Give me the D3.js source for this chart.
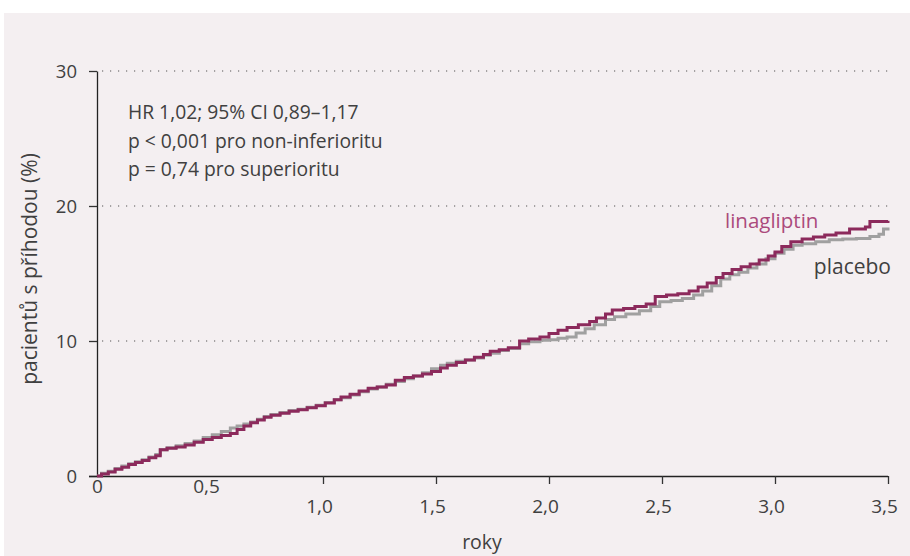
<!DOCTYPE html>
<html>
<head>
<meta charset="utf-8">
<script src="https://cdn.jsdelivr.net/npm/d3@7"></script>
<style>
  html, body { margin: 0; padding: 0; background: #ffffff; }
  svg { display: block; }
  text { font-family: "Open Sans", "Noto Sans", sans-serif; font-weight: 400; }
</style>
</head>
<body>
<svg id="chart" width="910" height="556"></svg>
<script>
// ---- data ----
const xTicks = [0, 0.5, 1.0, 1.5, 2.0, 2.5, 3.0, 3.5];
const xTickLabels = ["0", "0,5", "1,0", "1,5", "2,0", "2,5", "3,0", "3,5"];
const yTicks = [0, 10, 20, 30];
const yTickLabels = ["0", "10", "20", "30"];
const statsLines = ["HR 1,02; 95% CI 0,89–1,17", "p < 0,001 pro non-inferioritu", "p = 0,74 pro superioritu"];
const seriesNames = ["linagliptin", "placebo"];

// [years, cumulative % with event]
const linagliptin = [
  [0.00,0.0],[0.02,0.15],[0.05,0.3],[0.08,0.5],[0.11,0.65],[0.14,0.85],[0.17,1.0],[0.20,1.15],
  [0.23,1.35],[0.26,1.5],[0.28,1.95],[0.31,2.05],[0.35,2.15],[0.39,2.3],[0.43,2.5],[0.47,2.7],
  [0.51,2.85],[0.55,3.0],[0.59,3.15],[0.62,3.45],[0.65,3.7],[0.68,3.95],[0.71,4.15],[0.74,4.35],
  [0.77,4.5],[0.81,4.65],[0.85,4.8],[0.89,4.9],[0.93,5.05],[0.97,5.2],[1.01,5.4],[1.05,5.65],
  [1.08,5.85],[1.12,6.05],[1.16,6.3],[1.20,6.5],[1.24,6.6],[1.28,6.75],[1.32,7.1],[1.36,7.3],
  [1.40,7.4],[1.44,7.55],[1.48,7.75],[1.52,8.0],[1.55,8.2],[1.59,8.4],[1.63,8.6],[1.67,8.8],
  [1.71,9.0],[1.74,9.25],[1.78,9.35],[1.82,9.5],[1.87,10.0],[1.91,10.15],[1.96,10.3],[2.00,10.55],
  [2.04,10.8],[2.08,11.0],[2.13,11.2],[2.18,11.45],[2.21,11.7],[2.25,12.0],[2.28,12.3],[2.33,12.4],
  [2.38,12.55],[2.43,12.75],[2.47,13.3],[2.52,13.4],[2.57,13.5],[2.62,13.7],[2.66,14.0],[2.70,14.3],
  [2.74,14.7],[2.77,15.0],[2.81,15.3],[2.85,15.5],[2.89,15.7],[2.93,16.0],[2.97,16.3],[3.00,16.6],
  [3.03,17.0],[3.07,17.35],[3.12,17.55],[3.17,17.7],[3.22,17.85],[3.27,18.0],[3.33,18.3],[3.40,18.45],
  [3.42,18.85],[3.50,18.9]
];
const placebo = [
  [0.00,0.0],[0.02,0.2],[0.05,0.35],[0.08,0.55],[0.11,0.75],[0.14,0.9],[0.17,1.05],[0.20,1.2],
  [0.23,1.4],[0.26,1.6],[0.28,1.95],[0.31,2.1],[0.35,2.25],[0.39,2.4],[0.43,2.6],[0.47,2.85],
  [0.51,3.05],[0.55,3.3],[0.59,3.55],[0.62,3.7],[0.65,3.85],[0.68,4.0],[0.71,4.2],[0.74,4.4],
  [0.77,4.55],[0.81,4.7],[0.85,4.85],[0.89,4.95],[0.93,5.1],[0.97,5.25],[1.01,5.45],[1.05,5.65],
  [1.08,5.8],[1.12,6.0],[1.16,6.25],[1.20,6.45],[1.24,6.6],[1.28,6.8],[1.32,7.0],[1.36,7.2],
  [1.40,7.4],[1.44,7.65],[1.48,7.95],[1.52,8.2],[1.55,8.35],[1.59,8.5],[1.63,8.6],[1.67,8.75],
  [1.71,8.95],[1.74,9.1],[1.78,9.3],[1.82,9.45],[1.87,9.8],[1.91,9.95],[1.96,10.05],[2.00,10.1],
  [2.04,10.2],[2.08,10.3],[2.12,10.6],[2.16,10.9],[2.20,11.2],[2.25,11.6],[2.29,11.8],[2.34,12.0],
  [2.40,12.25],[2.45,12.55],[2.49,12.9],[2.54,13.0],[2.59,13.15],[2.64,13.4],[2.68,13.7],[2.72,14.1],
  [2.76,14.6],[2.80,14.9],[2.84,15.1],[2.88,15.4],[2.92,15.7],[2.96,16.1],[3.00,16.5],[3.04,16.8],
  [3.08,17.1],[3.12,17.2],[3.18,17.35],[3.24,17.5],[3.30,17.55],[3.36,17.6],[3.42,17.75],[3.46,17.9],
  [3.48,18.3],[3.50,18.4]
];

// ---- layout ----
const svg = d3.select("#chart");
const W = 910, H = 556;
const mLeft = 97, mRight = 888, mTop = 71, mBottom = 476;

svg.append("rect").attr("x", 4).attr("y", 13).attr("width", W - 4).attr("height", H - 13)
  .attr("fill", "#f4eff1");

const x = d3.scaleLinear().domain([0, 3.5]).range([mLeft, mRight]);
const y = d3.scaleLinear().domain([0, 30]).range([mBottom, mTop]);

const textColor = "#404040";
const fs = 18.5;

// gridlines (dotted) at 10,20,30
svg.append("g").selectAll("line").data(yTicks.filter(d => d > 0)).join("line")
  .attr("x1", mLeft + 5).attr("x2", mRight)
  .attr("y1", d => y(d)).attr("y2", d => y(d))
  .attr("stroke", "#555").attr("stroke-width", 1.2)
  .attr("stroke-dasharray", "1.2,6.8");

// y axis
const yAxis = svg.append("g").attr("transform", `translate(${mLeft},0)`)
  .call(d3.axisLeft(y).tickValues(yTicks).tickFormat((d, i) => yTickLabels[i]).tickSize(8).tickSizeOuter(0));
yAxis.select(".domain").attr("stroke", "#222").attr("stroke-width", 1.3);
yAxis.selectAll(".tick line").attr("stroke", "#333").attr("stroke-width", 1.3);
yAxis.selectAll(".tick text").attr("x", -20).attr("dy", "0.36em").attr("font-size", fs).attr("fill", textColor)
  .attr("font-family", "'Open Sans', sans-serif");

// x axis
const xAxis = svg.append("g").attr("transform", `translate(0,${mBottom})`)
  .call(d3.axisBottom(x).tickValues(xTicks).tickFormat((d, i) => xTickLabels[i]).tickSize(8).tickSizeOuter(0));
xAxis.select(".domain").attr("stroke", "#222").attr("stroke-width", 1.3)
  .attr("d", `M${mLeft - 8},0.5H${mRight}`);
xAxis.selectAll(".tick line").attr("stroke", "#333").attr("stroke-width", 1.3);
xAxis.selectAll(".tick text").attr("font-size", 19).attr("fill", textColor)
  .attr("font-family", "'Open Sans', sans-serif")
  .attr("dy", 0).attr("x", d => d === 0 ? 0 : -4)
  .attr("y", d => d <= 0.5 ? 17 : 37);
xAxis.selectAll(".tick line").attr("opacity", d => d <= 0.5 ? 0 : 1);

// axis titles
svg.append("text").attr("x", 482).attr("y", 549).attr("text-anchor", "middle")
  .attr("font-size", 19.5).attr("fill", textColor).text("roky");
svg.append("text").attr("transform", "translate(37,269) rotate(-90)").attr("text-anchor", "middle")
  .attr("font-size", 21).attr("fill", textColor).text("pacientů s příhodou (%)");

// stats text
svg.append("g").selectAll("text").data(statsLines).join("text")
  .attr("x", 128).attr("y", (d, i) => 119 + i * 28.5)
  .attr("font-size", 19.3).attr("fill", textColor).text(d => d);

// curves
const line = d3.line().x(d => x(d[0])).y(d => y(d[1])).curve(d3.curveStepAfter);
svg.append("path").datum(placebo).attr("d", line).attr("fill", "none")
  .attr("stroke", "#a0a0a0").attr("stroke-width", 3);
svg.append("path").datum(linagliptin).attr("d", line).attr("fill", "none")
  .attr("stroke", "#8c2a5c").attr("stroke-width", 3);

// series labels
svg.append("text").attr("x", 725).attr("y", 228)
  .attr("font-size", 20.5).attr("fill", "#ab4a7c").text(seriesNames[0]);
svg.append("text").attr("x", 891).attr("y", 274).attr("text-anchor", "end")
  .attr("font-size", 21).attr("fill", textColor).text(seriesNames[1]);
</script>
</body>
</html>
